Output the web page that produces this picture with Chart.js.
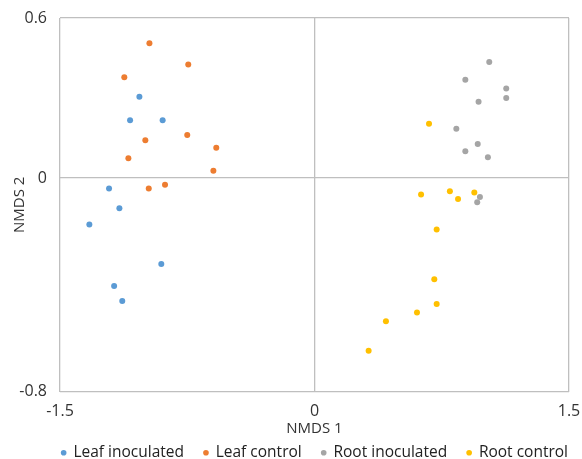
<!DOCTYPE html>
<html><head><meta charset="utf-8">
<script src="https://cdn.jsdelivr.net/npm/chart.js@4"></script>
<style>html,body{margin:0;padding:0;background:#fff}#w{width:582px;height:459px}</style>
</head><body><div id="w"><canvas id="c"></canvas></div>
<script>
const seriesNames = ["Leaf inoculated", "Leaf control", "Root inoculated", "Root control"];
const leafInoculatedX = [-1.032, -1.087, -0.895, -1.211, -1.150, -1.327, -0.903, -1.181, -1.133];
const leafInoculatedY = [0.305, 0.217, 0.217, -0.039, -0.113, -0.174, -0.322, -0.405, -0.461];
const leafControlX = [-0.973, -0.744, -1.121, -0.997, -0.750, -0.579, -1.097, -0.596, -0.977, -0.881];
const leafControlY = [0.505, 0.426, 0.378, 0.142, 0.161, 0.114, 0.074, 0.027, -0.039, -0.025];
const rootInoculatedX = [1.030, 0.889, 1.130, 1.130, 0.967, 0.836, 0.962, 0.889, 1.022, 0.975, 0.959];
const rootInoculatedY = [0.435, 0.369, 0.336, 0.300, 0.286, 0.185, 0.128, 0.101, 0.078, -0.071, -0.091];
const rootControlX = [0.675, 0.628, 0.798, 0.846, 0.942, 0.720, 0.706, 0.720, 0.604, 0.421, 0.319];
const rootControlY = [0.204, -0.062, -0.049, -0.078, -0.054, -0.193, -0.379, -0.472, -0.504, -0.537, -0.647];
const xTicks = [-1.5, 0, 1.5];
const yTicks = [-0.8, 0, 0.6];
const colors = ["#5b9bd5", "#ed7d31", "#a5a5a5", "#ffc000"];

const pts = (xs, ys) => xs.map((x, i) => ({x: x, y: ys[i]}));
const all = [[leafInoculatedX, leafInoculatedY], [leafControlX, leafControlY], [rootInoculatedX, rootInoculatedY], [rootControlX, rootControlY]];
const fam = "'Open Sans', 'Liberation Sans', sans-serif";
const tickFont = {family: fam, size: 16};
const titleFont = {family: fam, size: 15};
const legendFont = {family: fam, size: 15.5};

new Chart(document.getElementById('c'), {
  type: 'scatter',
  data: {
    datasets: all.map((d, i) => ({
      label: seriesNames[i],
      data: pts(d[0], d[1]),
      backgroundColor: colors[i],
      borderColor: colors[i],
      pointRadius: 3,
      pointHoverRadius: 3,
      borderWidth: 0
    }))
  },
  options: {
    responsive: true,
    maintainAspectRatio: false,
    animation: false,
    layout: {autoPadding: false, padding: {top: 18, right: -6, left: 0, bottom: -11.5}},
    plugins: {
      tooltip: {enabled: false},
      legend: {
        position: 'bottom',
        align: 'end',
        labels: {usePointStyle: true, pointStyle: 'circle', boxWidth: 4, boxHeight: 4, color: '#222', font: legendFont, padding: 20}
      }
    },
    scales: {
      x: {
        type: 'linear', min: -1.5, max: 1.5,
        afterBuildTicks: s => { s.ticks = xTicks.map(v => ({value: v})); },
        afterFit: s => { s.height = 33.5; s.paddingLeft = 0; s.paddingRight = 13; },
        ticks: {color: '#333', font: tickFont, padding: 10, callback: v => String(v)},
        grid: {color: '#bfbfbf', lineWidth: 1.3, drawTicks: false},
        border: {display: false},
        title: {display: true, text: 'NMDS 1', color: '#333', font: titleFont, padding: {top: 0, bottom: -12.5}}
      },
      y: {
        type: 'linear', min: -0.8, max: 0.6,
        afterBuildTicks: s => { s.ticks = yTicks.map(v => ({value: v})); },
        afterFit: s => { s.width = 60; s.paddingTop = 0; s.paddingBottom = 0; },
        ticks: {color: '#333', font: tickFont, padding: 13, callback: v => String(v)},
        grid: {color: '#bfbfbf', lineWidth: 1.3, drawTicks: false},
        border: {display: false},
        title: {display: true, text: 'NMDS 2', color: '#333', font: titleFont, padding: {top: 11, bottom: 0}}
      }
    }
  }
});
</script></body></html>
